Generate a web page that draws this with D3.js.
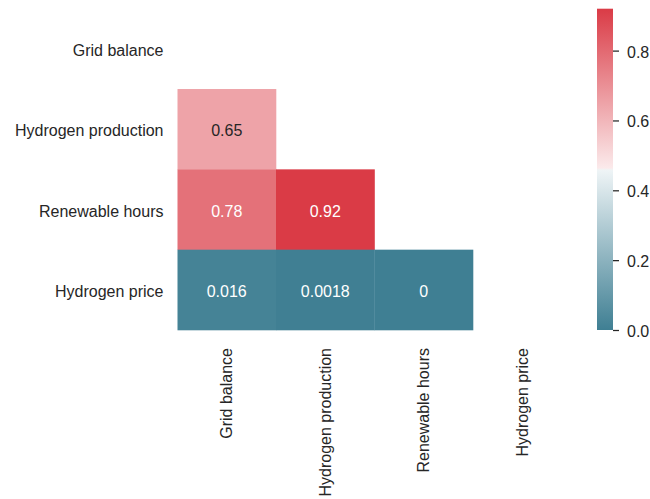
<!DOCTYPE html>
<html>
<head>
<meta charset="utf-8">
<script src="https://cdn.jsdelivr.net/npm/d3@7"></script>
<style>
  html, body { margin: 0; padding: 0; background: #ffffff; }
  svg { display: block; font-family: "Liberation Sans", Arial, sans-serif; }
</style>
</head>
<body>
<svg id="chart" width="650" height="499"></svg>
<script>
// Variables shown on both axes
const labels = ["Grid balance", "Hydrogen production", "Renewable hours", "Hydrogen price"];

// Lower-triangle correlation values, one array per row (row i holds columns 0..i-1)
const rowGridBalance = [];
const rowHydrogenProduction = [0.65];
const rowRenewableHours = [0.78, 0.92];
const rowHydrogenPrice = [0.016, 0.0018, 0];

// Colour bar ticks
const colorbarTicks = [0.0, 0.2, 0.4, 0.6, 0.8];
const colorMin = 0;
const colorMax = 0.92;

const rows = [rowGridBalance, rowHydrogenProduction, rowRenewableHours, rowHydrogenPrice];
const cells = [];
rows.forEach((vals, i) => vals.forEach((v, j) => cells.push({ row: labels[i], col: labels[j], value: v })));

const svg = d3.select("#chart");
const textColor = "#262626";
const fontFamily = '"Liberation Sans", Arial, sans-serif';

const x = d3.scaleBand().domain(labels).range([177.5, 571.5]);
const y = d3.scaleBand().domain(labels).range([8.7, 330]);

// Diverging palette: teal -> pale teal | grey | pale red -> red
const span = colorMax - colorMin;
const colorStops = [0, 127 / 256, 128 / 256, 129 / 256, 1];
const colorRange = ["#3f7f93", "#eef4f6", "#f2f2f2", "#fbeaeb", "#da3b46"];
const color = d3.scaleLinear()
  .domain(colorStops.map(t => colorMin + t * span))
  .range(colorRange)
  .interpolate(d3.interpolateRgb)
  .clamp(true);

function luminance(c) {
  const rgb = d3.rgb(c);
  const lin = [rgb.r, rgb.g, rgb.b].map(v => {
    v /= 255;
    return v <= 0.03928 ? v / 12.92 : Math.pow((v + 0.055) / 1.055, 2.4);
  });
  return 0.2126 * lin[0] + 0.7152 * lin[1] + 0.0722 * lin[2];
}

const fmt = v => {
  if (v === 0) return "0";
  return d3.format(".2")(v).replace(/0+$/, "").replace(/\.$/, "");
};

// Heatmap cells
const g = svg.append("g");
g.selectAll("rect.cell")
  .data(cells)
  .join("rect")
  .attr("class", "cell")
  .attr("x", d => x(d.col))
  .attr("y", d => y(d.row))
  .attr("width", x.bandwidth() + 0.3)
  .attr("height", y.bandwidth() + 0.3)
  .attr("fill", d => color(d.value));

// Annotations
g.selectAll("text.annot")
  .data(cells)
  .join("text")
  .attr("class", "annot")
  .attr("x", d => x(d.col) + x.bandwidth() / 2)
  .attr("y", d => y(d.row) + y.bandwidth() / 2)
  .attr("dy", "0.45em")
  .attr("text-anchor", "middle")
  .attr("font-size", 16)
  .attr("fill", d => luminance(color(d.value)) > 0.408 ? textColor : "#ffffff")
  .text(d => fmt(d.value));

// Y axis (row labels)
const yAxis = svg.append("g")
  .attr("transform", `translate(${x.range()[0]},0)`)
  .call(d3.axisLeft(y).tickSize(0).tickPadding(14));
yAxis.select(".domain").remove();
yAxis.selectAll("text")
  .attr("font-size", 16)
  .attr("fill", textColor)
  .attr("dy", "0.45em")
  .style("font-family", fontFamily);

// X axis (column labels, rotated)
const xAxis = svg.append("g")
  .attr("transform", `translate(0,${y.range()[1]})`)
  .call(d3.axisBottom(x).tickSize(0));
xAxis.select(".domain").remove();
xAxis.selectAll("text")
  .attr("font-size", 16)
  .attr("fill", textColor)
  .style("font-family", fontFamily)
  .attr("transform", "rotate(-90)")
  .attr("x", -18)
  .attr("y", 0)
  .attr("dy", "0.35em")
  .attr("text-anchor", "end");

// Colour bar
const cbX = 597, cbW = 16;
const cbScale = d3.scaleLinear().domain([colorMin, colorMax]).range([330, 8.7]);
const defs = svg.append("defs");
const grad = defs.append("linearGradient")
  .attr("id", "cbgrad")
  .attr("x1", 0).attr("y1", 1).attr("x2", 0).attr("y2", 0);
colorStops.forEach((t, i) => {
  grad.append("stop")
    .attr("offset", t)
    .attr("stop-color", colorRange[i]);
});
svg.append("rect")
  .attr("x", cbX)
  .attr("y", cbScale(colorMax))
  .attr("width", cbW)
  .attr("height", cbScale(colorMin) - cbScale(colorMax))
  .attr("fill", "url(#cbgrad)");

const cbAxis = svg.append("g")
  .attr("transform", `translate(${cbX + cbW},0)`)
  .call(d3.axisRight(cbScale).tickValues(colorbarTicks).tickFormat(d3.format(".1f")).tickSize(6).tickPadding(8));
cbAxis.select(".domain").remove();
cbAxis.selectAll("line").attr("stroke", textColor).attr("stroke-width", 1.25);
cbAxis.selectAll("text")
  .attr("font-size", 16)
  .attr("fill", textColor)
  .attr("dy", "0.4em")
  .style("font-family", fontFamily);
</script>
</body>
</html>
